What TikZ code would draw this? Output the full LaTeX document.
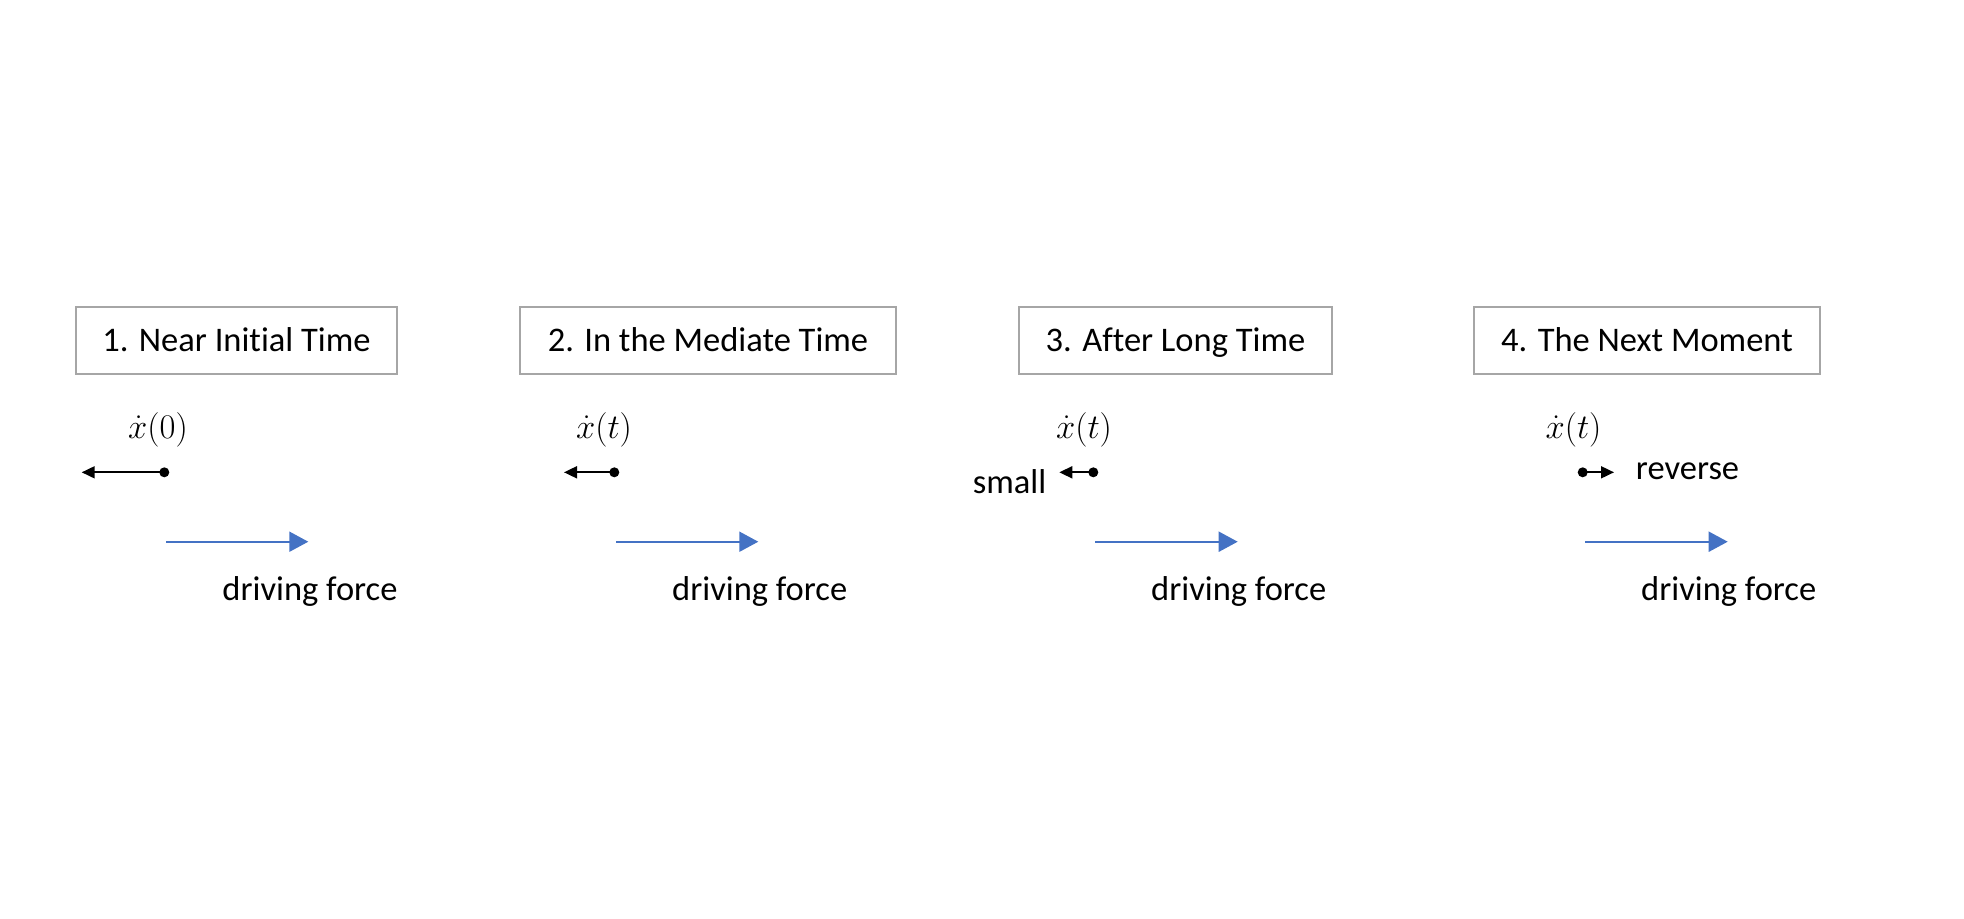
\documentclass[tikz,border=0pt]{standalone}
\usepackage{fontspec}
\setmainfont{Carlito}[Ligatures={NoCommon,NoContextual}]
\usetikzlibrary{arrows.meta}
\definecolor{forceblue}{HTML}{4472C4}
\definecolor{boxgray}{HTML}{A6A6A6}
\begin{document}
\fontsize{17.25}{20}\selectfont
\begin{tikzpicture}[x=0.5pt,y=-0.5pt,
  titlebox/.style={draw=boxgray,line width=0.8pt,minimum height=33.5pt,
    text height=0.644em,text depth=0pt,inner sep=0pt},
  label/.style={anchor=base,inner sep=0pt},
  dotnode/.style={circle,fill=black,minimum size=5pt,inner sep=0pt},
  velarrow/.style={line width=0.9pt,-{Triangle[length=6.5pt,width=6pt]}},
  forcearrow/.style={forceblue,line width=1pt,-{Triangle[length=9.5pt,width=10pt]}}]
\useasboundingbox (0,0) rectangle (1964,918);

% stage titles
\node[titlebox,minimum width=160.5pt] (t1) at (236.5,340.5) {1. Near Initial Time};
\node[titlebox,minimum width=188pt]   (t2) at (708,340.5)   {2. In the Mediate Time};
\node[titlebox,minimum width=156.5pt] (t3) at (1175.5,340.5) {3. After Long Time};
\node[titlebox,minimum width=173pt]   (t4) at (1647,340.5)  {4. The Next Moment};

% velocity labels
\node[label] (x1) at (158,438)    {$\dot{x}(0)$};
\node[label] (x2) at (604,438)    {$\dot{x}(t)$};
\node[label] (x3) at (1084,438)   {$\dot{x}(t)$};
\node[label] (x4) at (1573.5,438) {$\dot{x}(t)$};

% particles and velocity arrows
\node[dotnode] (d1) at (164.3,472.3) {};
\node[dotnode] (d2) at (614.3,472.3) {};
\node[dotnode] (d3) at (1093.3,472.3) {};
\node[dotnode] (d4) at (1582.7,472.3) {};
\coordinate (v1) at (81.7,472.3);
\coordinate (v2) at (564,472.3);
\coordinate (v3) at (1059.3,472.3);
\coordinate (v4) at (1614,472.3);
\draw[velarrow] (d1.center) -- (v1);
\draw[velarrow] (d2.center) -- (v2);
\draw[velarrow] (d3.center) -- (v3);
\draw[velarrow] (d4.center) -- (v4);

\node[label] (sm) at (1009.5,493.3) {small};
\node[label] (rv) at (1687.5,479.3) {reverse};

% driving force arrows
\coordinate (f1a) at (166,541.7);  \coordinate (f1b) at (308.3,541.7);
\coordinate (f2a) at (616,541.7);  \coordinate (f2b) at (758.3,541.7);
\coordinate (f3a) at (1095,541.7); \coordinate (f3b) at (1237.7,541.7);
\coordinate (f4a) at (1585,541.7); \coordinate (f4b) at (1727.7,541.7);
\draw[forcearrow] (f1a) -- (f1b);
\draw[forcearrow] (f2a) -- (f2b);
\draw[forcearrow] (f3a) -- (f3b);
\draw[forcearrow] (f4a) -- (f4b);

\node[label] (l1) at (310,600)    {driving force};
\node[label] (l2) at (759.7,600)  {driving force};
\node[label] (l3) at (1238.7,600) {driving force};
\node[label] (l4) at (1728.7,600) {driving force};
\end{tikzpicture}
\end{document}
